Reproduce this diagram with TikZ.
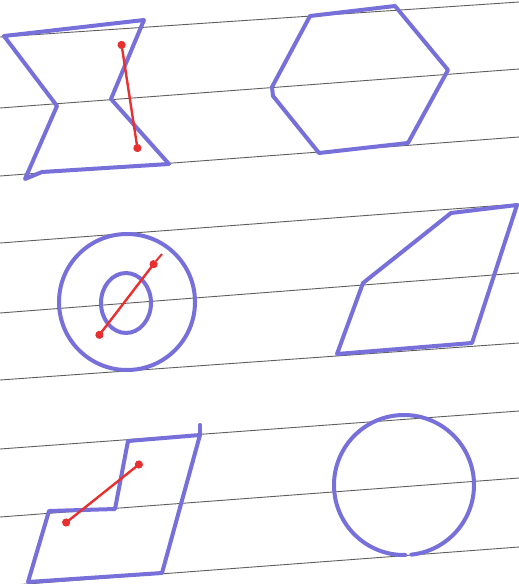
\documentclass[tikz,border=0pt]{standalone}
\usepackage{xcolor}
\usepackage{tikz}
\usetikzlibrary{arrows.meta}
\definecolor{penblue}{RGB}{120,112,218}
\definecolor{penred}{RGB}{232,48,48}
\definecolor{ruleline}{RGB}{95,95,95}

\begin{document}
\begin{tikzpicture}[
  x=1pt, y=-1pt,
  ruled/.style={ruleline, line width=0.9pt},
  shapeline/.style={penblue, line width=4pt, line join=round, line cap=round},
  segline/.style={penred, line width=2.4pt, {Circle[length=8pt]}-{Circle[length=8pt]}},
]
  \useasboundingbox (0,0) rectangle (519,584);
  \fill[white] (0,0) rectangle (519,584);

  % Paper lines
  \foreach \yl/\yr in {37/2,108/69,176/137,243/204,313/273,380/343,449/411,517/478,586/547}
    \draw[ruled] (0,\yl) -- (519,\yr);

  % Bow tie (top left)
  \draw[shapeline] (4,36) -- (144,20) -- (111,99) -- (169,164) -- (42,172)
    -- (25,179) -- (57,106) -- cycle;
  \coordinate (bowA) at (121,41);
  \coordinate (bowB) at (138,152);
  \draw[segline] (bowA) -- (bowB);

  % Hexagon (top right)
  \draw[shapeline] (310,16) -- (395,6) -- (448,70) -- (408,143) -- (319,153)
    -- (273,96) -- (272,87) -- cycle;

  % Ring (middle left)
  \draw[shapeline] (127,302) ellipse[x radius=68, y radius=68];
  \draw[shapeline] (126,303) ellipse[x radius=25, y radius=30];
  \coordinate (ringA) at (97,338);
  \coordinate (ringB) at (156,261);
  \coordinate (ringEnd) at (162,254);
  \draw[segline] (ringA) -- (ringB);
  \draw[penred, line width=2pt] (ringB) -- (ringEnd);

  % Quadrilateral (middle right)
  \draw[shapeline] (337,354) -- (363,283) -- (451,213) -- (517,205)
    -- (472,343) -- cycle;

  % Step shape (bottom left)
  \draw[shapeline] (28,582) -- (49,511) -- (115,509) -- (128,441)
    -- (200,435) -- (162,573) -- cycle;
  \draw[shapeline] (200,435) -- (200,425);
  \coordinate (stepA) at (63,525);
  \coordinate (stepB) at (142,462);
  \draw[segline] (stepA) -- (stepB);

  % Circle (bottom right)
  \draw[shapeline] (404,485) ++(89:70) arc[start angle=89, end angle=444, radius=70];
\end{tikzpicture}
\end{document}
